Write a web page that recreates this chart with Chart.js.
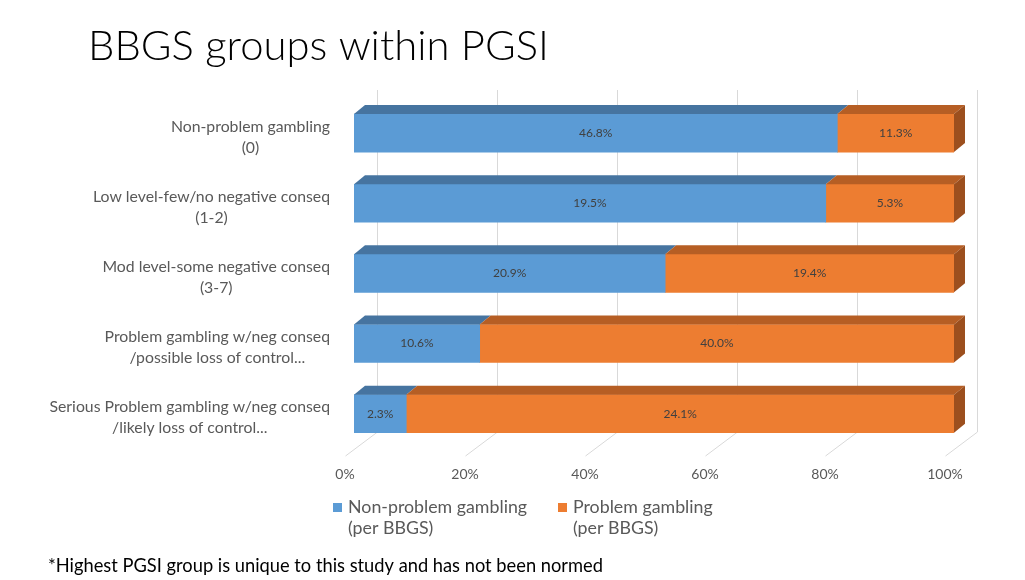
<!DOCTYPE html>
<html>
<head>
<meta charset="utf-8">
<script src="https://cdn.jsdelivr.net/npm/chart.js@4/dist/chart.umd.min.js"></script>
<style>
  html, body { margin: 0; padding: 0; background: #fff; }
  #wrap { position: relative; width: 1025px; height: 580px; }
</style>
</head>
<body>
<div id="wrap"><canvas id="pgsiChart" width="1025" height="580"></canvas></div>
<script>
const categories = [
    ['Non-problem gambling', '(0)'],
    ['Low level-few/no negative conseq', '(1-2)'],
    ['Mod level-some negative conseq', '(3-7)'],
    ['Problem gambling w/neg conseq', '/possible loss of control...'],
    ['Serious Problem gambling w/neg conseq', '/likely loss of control...']
];
const nonProblem = [46.8, 19.5, 20.9, 10.6, 2.3];
const problem = [11.3, 5.3, 19.4, 40.0, 24.1];
const seriesNames = [
    ['Non-problem gambling', '(per BBGS)'],
    ['Problem gambling', '(per BBGS)']
];
const tickValues = [0, 20, 40, 60, 80, 100];
const titleText = 'BBGS groups within PGSI';
const noteText = '*Highest PGSI group is unique to this study and has not been normed';

const FONT = 'Lato, "Open Sans", sans-serif';
const depth = { dx: 11, dy: 9 };
const backShift = 23;

// bars are shown as share of each row, labels keep the raw values
const share = (a, b) => a.map((v, i) => v / (v + b[i]) * 100);

const faceColors = [
    { front: '#5B9BD5', top: '#4674A0', side: '#3F6A93' },
    { front: '#ED7D31', top: '#B65E24', side: '#9C4F1E' }
];

const threeD = {
    id: 'threeD',
    beforeDatasetsDraw(chart) {
        const ctx = chart.ctx;
        const x = chart.scales.x;
        ctx.save();
        ctx.strokeStyle = '#D9D9D9';
        ctx.lineWidth = 1;
        tickValues.forEach(v => {
            const px = Math.round(x.getPixelForValue(v) + backShift) + 0.5;
            ctx.beginPath();
            ctx.moveTo(px, 90);
            ctx.lineTo(px, 432);
            ctx.lineTo(px - 32, 456);
            ctx.stroke();
        });
        ctx.restore();
    },
    afterDatasetsDraw(chart) {
        const ctx = chart.ctx;
        const raw = [nonProblem, problem];
        ctx.save();
        chart.data.datasets.forEach((ds, di) => {
            const meta = chart.getDatasetMeta(di);
            meta.data.forEach((bar, i) => {
                const p = bar.getProps(['x', 'y', 'base', 'height'], true);
                const left = Math.min(p.base, p.x);
                const right = Math.max(p.base, p.x);
                const top = p.y - p.height / 2;
                const bottom = p.y + p.height / 2;
                ctx.fillStyle = faceColors[di].top;
                ctx.beginPath();
                ctx.moveTo(left, top);
                ctx.lineTo(left + depth.dx, top - depth.dy);
                ctx.lineTo(right + depth.dx, top - depth.dy);
                ctx.lineTo(right, top);
                ctx.closePath();
                ctx.fill();
                if (di === chart.data.datasets.length - 1) {
                    ctx.fillStyle = faceColors[di].side;
                    ctx.beginPath();
                    ctx.moveTo(right, top);
                    ctx.lineTo(right + depth.dx, top - depth.dy);
                    ctx.lineTo(right + depth.dx, bottom - depth.dy);
                    ctx.lineTo(right, bottom);
                    ctx.closePath();
                    ctx.fill();
                }
                ctx.fillStyle = '#404040';
                ctx.font = '12px ' + FONT;
                ctx.textAlign = 'center';
                ctx.textBaseline = 'middle';
                ctx.fillText(raw[di][i].toFixed(1) + '%', (left + right) / 2, p.y);
            });
        });
        ctx.restore();
    },
    afterDraw(chart) {
        const ctx = chart.ctx;
        const y = chart.scales.y;
        ctx.save();

        // category labels: each block centred on itself, blocks right aligned
        ctx.font = '15.8px ' + FONT;
        ctx.fillStyle = '#595959';
        ctx.textAlign = 'center';
        ctx.textBaseline = 'middle';
        categories.forEach((lines, i) => {
            const w = Math.max(...lines.map(t => ctx.measureText(t).width));
            const cx = 330 - w / 2;
            const cy = y.getPixelForValue(i) + 4;
            lines.forEach((t, k) => {
                ctx.fillText(t, cx, cy + (k - (lines.length - 1) / 2) * 21);
            });
        });

        // legend
        const legendX = [333, 558];
        ctx.font = '17.8px ' + FONT;
        ctx.textAlign = 'left';
        chart.data.datasets.forEach((ds, di) => {
            ctx.fillStyle = ds.backgroundColor;
            ctx.fillRect(legendX[di], 503, 9, 9);
            ctx.fillStyle = '#595959';
            seriesNames[di].forEach((t, k) => {
                ctx.fillText(t, legendX[di] + 15, 507 + k * 21);
            });
        });

        // title and note
        ctx.fillStyle = '#000';
        ctx.font = '300 41.8px ' + FONT;
        ctx.fillText(titleText, 88, 47);
        ctx.font = '18.3px ' + FONT;
        ctx.fillText(noteText, 48, 566);
        ctx.restore();
    }
};

new Chart(document.getElementById('pgsiChart'), {
    type: 'bar',
    data: {
        labels: categories,
        datasets: [
            {
                label: seriesNames[0].join(' '),
                data: share(nonProblem, problem),
                backgroundColor: faceColors[0].front,
                barThickness: 38
            },
            {
                label: seriesNames[1].join(' '),
                data: share(problem, nonProblem),
                backgroundColor: faceColors[1].front,
                barThickness: 38
            }
        ]
    },
    options: {
        indexAxis: 'y',
        responsive: false,
        animation: false,
        layout: { padding: { left: 354, right: 71, top: 98, bottom: 88.5 } },
        plugins: {
            legend: { display: false },
            tooltip: { enabled: false }
        },
        scales: {
            x: {
                stacked: true,
                min: 0,
                max: 100,
                grid: { display: false },
                border: { display: false },
                ticks: {
                    stepSize: 20,
                    padding: 9,
                    labelOffset: -9,
                    color: '#595959',
                    font: { family: FONT, size: 14 },
                    callback: v => v + '%'
                }
            },
            y: {
                stacked: true,
                display: false
            }
        }
    },
    plugins: [threeD]
});
</script>
</body>
</html>
